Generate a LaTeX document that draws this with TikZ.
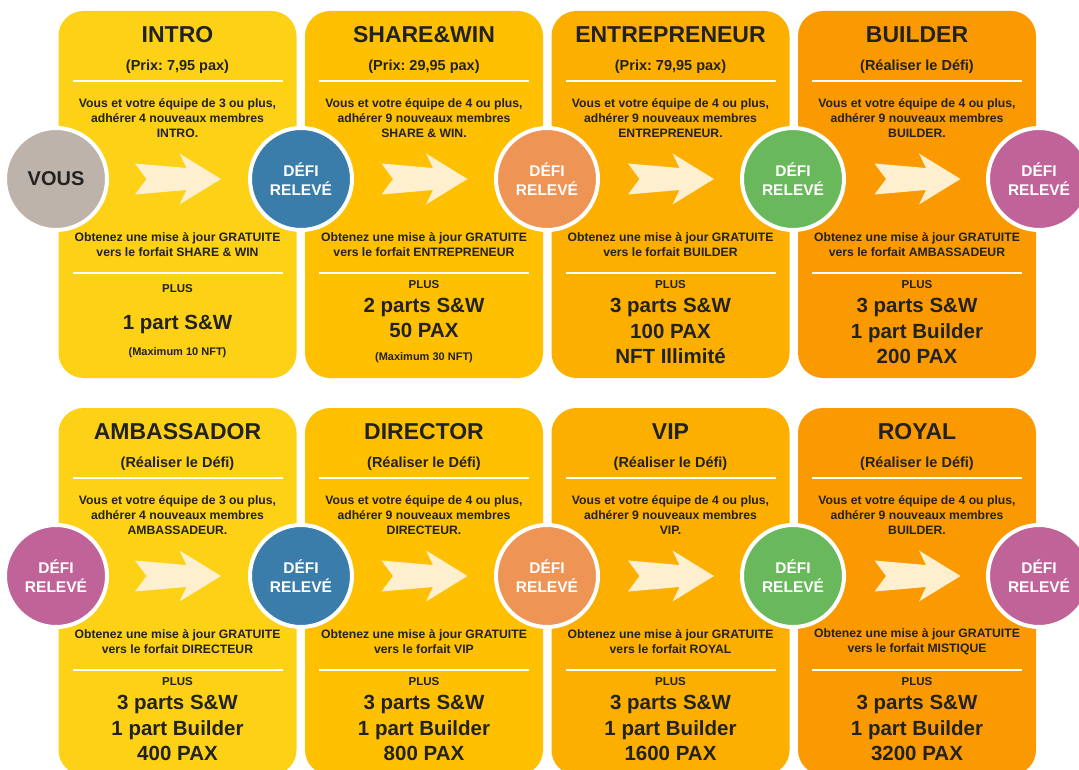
\documentclass[tikz,border=0pt]{standalone}
\usepackage{fontspec}
\setmainfont{Liberation Sans}
\usetikzlibrary{positioning}
\frenchspacing
\definecolor{jaune}{HTML}{FCD116}
\definecolor{ambre}{HTML}{FEC000}
\definecolor{safran}{HTML}{FDAF00}
\definecolor{mandarine}{HTML}{FB9A00}
\definecolor{creme}{HTML}{FEF0CF}
\definecolor{encre}{HTML}{222222}
\definecolor{gris}{HTML}{BDB3AA}
\definecolor{bleu}{HTML}{3A7DAA}
\definecolor{saumon}{HTML}{EE9455}
\definecolor{vert}{HTML}{69B95C}
\definecolor{violet}{HTML}{BF6399}

\begin{document}
\begin{tikzpicture}[x=1pt,y=-1pt,
		carte/.style={rounded corners=25pt},
		texte/.style={text=encre,align=center,inner sep=0pt},
		titre/.style={texte,font=\fontsize{23}{27}\selectfont\bfseries},
		prix/.style={texte,font=\fontsize{14.5}{17}\selectfont\bfseries},
		petit/.style={texte,font=\fontsize{12.2}{15}\selectfont\bfseries},
		mention/.style={texte,font=\fontsize{11.5}{14}\selectfont\bfseries},
		gros/.style={texte,font=\fontsize{20.5}{25.5}\selectfont\bfseries},
		maxi/.style={texte,font=\fontsize{11}{13}\selectfont\bfseries},
		trait/.style={white,line width=1.5pt},
		fleche/.style={fill=creme},
		defi/.style={circle,draw=white,line width=4pt,minimum size=102pt,inner sep=0pt,
			text=white,align=center,font=\fontsize{15.5}{19}\selectfont\bfseries}]
	\useasboundingbox (0,0) rectangle (1079,770);
	\clip (0,0) rectangle (1079,770);
	% les huit forfaits
	\foreach \i/\x/\y/\col/\titr/\sous/\n/\m/\qui/\vers in {
		1/58.5/11/jaune/INTRO/{(Prix: 7,95 pax)}/3/4/INTRO./{SHARE \& WIN},
		2/305/11/ambre/SHARE\&WIN/{(Prix: 29,95 pax)}/4/9/{SHARE \& WIN.}/ENTREPRENEUR,
		3/551.5/11/safran/ENTREPRENEUR/{(Prix: 79,95 pax)}/4/9/ENTREPRENEUR./BUILDER,
		4/798/11/mandarine/BUILDER/{(Réaliser le Défi)}/4/9/BUILDER./AMBASSADEUR,
		5/58.5/408/jaune/AMBASSADOR/{(Réaliser le Défi)}/3/4/AMBASSADEUR./DIRECTEUR,
		6/305/408/ambre/DIRECTOR/{(Réaliser le Défi)}/4/9/DIRECTEUR./VIP,
		7/551.5/408/safran/VIP/{(Réaliser le Défi)}/4/9/VIP./ROYAL,
		8/798/408/mandarine/ROYAL/{(Réaliser le Défi)}/4/9/BUILDER./MISTIQUE}{
		\fill[carte,\col] (\x,\y) rectangle ++(238,367);
		\node[titre] (titre\i) at (\x+119,\y+24) {\titr};
		\node[prix] (prix\i) at (\x+119,\y+56) {\sous};
		\draw[trait] (\x+14,\y+70) -- (\x+224,\y+70);
		\node[petit] (but\i) at (\x+119,\y+107) {Vous et votre équipe de \n\ ou plus,\\adhérer \m\ nouveaux membres\\\qui};
		\node[petit] (bonus\i) at (\x+119,\y+234) {Obtenez une mise à jour GRATUITE\\vers le forfait \vers};
		\draw[trait] (\x+14,\y+262) -- (\x+224,\y+262);
		\fill[fleche] (\x+76.5,\y+152.5) -- (\x+128,\y+157) -- (\x+121,\y+142.5)
			-- (\x+162.5,\y+168) -- (\x+121,\y+193.5) -- (\x+128,\y+179)
			-- (\x+76.5,\y+183.5) -- (\x+88,\y+168) -- cycle;
	}
	% gains
	\node[mention] (plus1) at (177.5,289) {PLUS};
	\node[gros] (gain1) at (177.5,324) {1 part S\&W};
	\node[maxi] (max1) at (177.5,353) {(Maximum 10 NFT)};
	\node[mention] (plus2) at (424,285) {PLUS};
	\node[gros] (gain2) at (424,318) {2 parts S\&W\\50 PAX};
	\node[maxi] (max2) at (424,358) {(Maximum 30 NFT)};
	\node[mention] (plus3) at (670.5,285) {PLUS};
	\node[gros] (gain3) at (670.5,331) {3 parts S\&W\\100 PAX\\NFT Illimité};
	\node[mention] (plus4) at (917,285) {PLUS};
	\node[gros] (gain4) at (917,331) {3 parts S\&W\\1 part Builder\\200 PAX};
	\foreach \i/\x/\pax in {5/177.5/400,6/424/800,7/670.5/1600,8/917/3200}{
		\node[mention] (plus\i) at (\x,682) {PLUS};
		\node[gros] (gain\i) at (\x,728) {3 parts S\&W\\1 part Builder\\\pax\ PAX};
	}
	% cercles
	\node[defi,fill=gris,text=encre,font=\fontsize{20}{24}\selectfont\bfseries] (vous) at (56,179) {VOUS};
	\node[defi,fill=violet] (e0) at (56,576) {DÉFI\\RELEVÉ};
	\foreach \j/\x/\col in {1/301/bleu,2/547/saumon,3/793/vert,4/1039/violet}{
		\node[defi,fill=\col] (d\j) at (\x,179) {DÉFI\\RELEVÉ};
		\node[defi,fill=\col] (e\j) at (\x,576) {DÉFI\\RELEVÉ};
	}
\end{tikzpicture}
\end{document}
